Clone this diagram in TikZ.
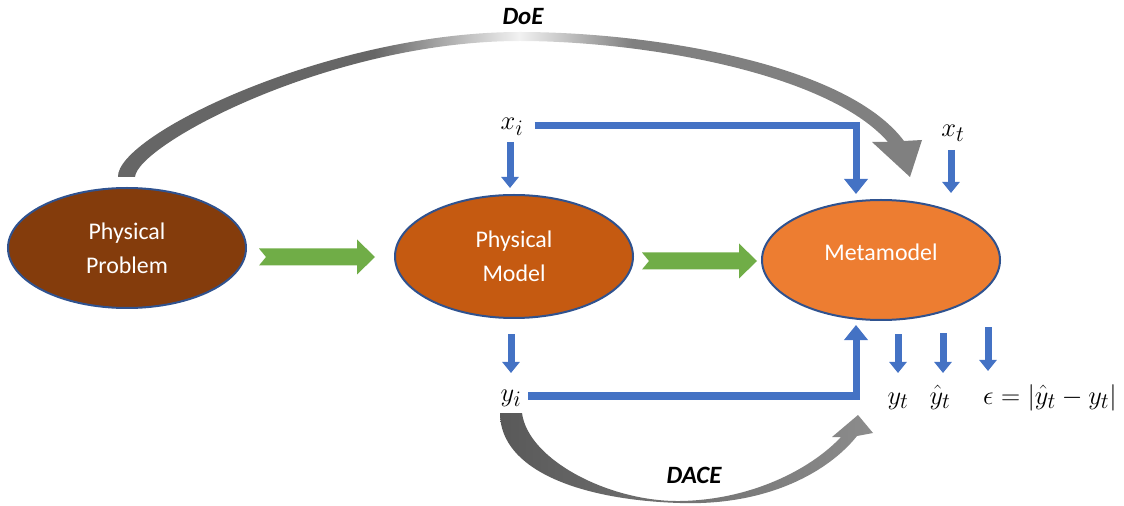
\documentclass[tikz,border=0pt]{standalone}
\usepackage{graphicx}
\usepackage{fontspec}
\setmainfont{Carlito}
\usetikzlibrary{arrows.meta,shapes.geometric,calc}

\definecolor{officeblue}{HTML}{4472C4}
\definecolor{leafgreen}{HTML}{70AD47}
\definecolor{rust}{HTML}{843C0C}
\definecolor{burnt}{HTML}{C55A11}
\definecolor{tangerine}{HTML}{ED7D31}
\definecolor{rimblue}{HTML}{2F528F}
\definecolor{arcdark}{HTML}{666666}
\definecolor{arcmid}{HTML}{808080}
\definecolor{arclight}{HTML}{F2F2F2}
\definecolor{dacedark}{HTML}{595959}
\definecolor{dacelight}{HTML}{8C8C8C}

% grey fills of the two curved arrows
\pgfdeclarehorizontalshading{doefill}{100bp}{color(0bp)=(arcdark); color(25bp)=(arcdark); color(41bp)=(arcdark); color(50bp)=(arclight); color(57bp)=(arcmid); color(75bp)=(arcmid); color(100bp)=(arcmid)}
\pgfdeclarehorizontalshading{dacefill}{100bp}{color(0bp)=(dacedark); color(25bp)=(dacedark); color(75bp)=(dacelight); color(100bp)=(dacelight)}

% slightly enlarged math labels
\newcommand{\biggermath}[1]{\scalebox{1.07}{$#1$}}

\tikzset{
  blob/.style={ellipse, draw=rimblue, line width=2bp, minimum width=238bp,
    minimum height=120bp, inner sep=0pt, text=white, align=center,
    font=\fontsize{24}{34}\selectfont},
  mathlbl/.style={inner sep=0pt, font=\fontsize{24.88}{30}\selectfont},
  arclbl/.style={inner sep=0pt, font=\fontsize{25}{30}\selectfont\bfseries\itshape},
  bluebar/.style={draw=officeblue, line width=7bp},
  bighead/.tip={Triangle[width=23bp,length=15bp]},
  smallhead/.tip={Triangle[width=17bp,length=11bp]},
  pics/fatarrow/.style={code={
    \fill[leafgreen] (0,-8.5) -- (#1-18,-8.5) -- (#1-18,-17.5) -- (#1,0)
      -- (#1-18,17.5) -- (#1-18,8.5) -- (0,8.5) -- (7,0) -- cycle;}},
}

\begin{document}
\begin{tikzpicture}[x=1bp,y=-1bp]
\useasboundingbox (0,0) rectangle (1124,506);

% curved grey arrows
\shade[shading=doefill] (118,177) .. controls (116,135) and (330,32) .. (520,32)
  .. controls (645,32) and (845,62) .. (904,141)
  -- (922,140) -- (910,177) -- (872,142) -- (888,142)
  .. controls (827,72) and (640,41) .. (520,41)
  .. controls (330,41) and (137,145) .. (135,177) -- cycle;
\shade[shading=dacefill] (500,413) .. controls (500,470) and (580,500) .. (680,503)
  .. controls (770,506) and (830,470) .. (857,436)
  -- (873,433) -- (858,415) -- (832,437) -- (841,437)
  .. controls (810,470) and (750,500) .. (680,501)
  .. controls (610,502) and (528,460) .. (522,413) -- cycle;

% main stages
\node[blob, fill=rust] (prob) at (127,248) {Physical\\Problem};
\node[blob, fill=burnt, minimum height=123bp] (model) at (514,256.5) {Physical\\Model};
\node[blob, fill=tangerine] (meta) at (881,260) {};
\node[inner sep=0pt, text=white, font=\fontsize{24}{34}\selectfont] (metatext) at (881,252) {Metamodel};

% labels
\node[mathlbl, anchor=base] (xi) at (512,130) {\biggermath{x_i}};
\node[mathlbl, anchor=base] (xt) at (953,137) {\biggermath{x_t}};
\node[mathlbl, anchor=base] (yi) at (511,401) {\biggermath{y_i}};
\node[mathlbl, anchor=base] (yt) at (898,404) {\biggermath{y_t}};
\node[mathlbl, anchor=base] (yhat) at (940,404) {\biggermath{\hat{y}_t}};
\node[mathlbl, anchor=base west] (err) at (983,404) {\biggermath{\epsilon = |\hat{y}_t - y_t|}};
\node[arclbl, anchor=base] (doe) at (523,25) {DoE};
\node[arclbl, anchor=base] (dace) at (694,483) {DACE};

% green block arrows between stages
\pic at ($(prob.east)+(12,9)$) {fatarrow=116};
\pic at ($(model.east)+(8,4.5)$) {fatarrow=115};

% blue data flows
\coordinate (metatop) at ($(meta.north)+(-25,-5)$);
\coordinate (metabot) at ($(meta.south)+(-25,4)$);
\draw[bluebar,-bighead] ($(xi.base east)+(11,-4.5)$) -| (metatop);
\draw[bluebar,-smallhead] ($(xi.base)+(-2,12)$) -- ($(model.north)+(-4,-6)$);
\draw[bluebar,-smallhead] ($(xt.base)+(-2,13)$) -- ($(meta.north)+(70,-6)$);
\draw[bluebar,-smallhead] ($(model.south)+(-3,15)$) -- ($(yi.base)+(0,-28)$);
\draw[bluebar,-bighead] ($(yi.base east)+(7,-5)$) -| (metabot);
\draw[bluebar,-smallhead] ($(meta.south)+(17,13)$) -- ($(yt.base)+(0,-31)$);
\draw[bluebar,-smallhead] ($(meta.south)+(62,12)$) -- ($(yhat.base)+(3,-31)$);
\draw[bluebar,-smallhead] ($(meta.south)+(107,6)$) -- ($(err.base west)+(5,-33)$);
\end{tikzpicture}
\end{document}
